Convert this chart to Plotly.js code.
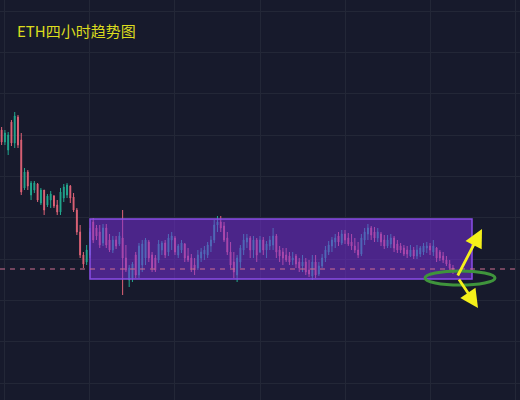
<!DOCTYPE html>
<html>
<head>
<meta charset="utf-8">
<script src="https://cdn.plot.ly/plotly-3.0.1.min.js"></script>
<style>html,body{margin:0;padding:0;background:#171a2c;}#chart{width:520px;height:400px;}</style>
</head>
<body>
<div id="chart"></div>
<script>
// ETH 4-hour candles
const openPrices = [2470,2458,2450,2478,2457,2483,2460,2412,2428,2405,
2410,2416,2397,2410,2395,2400,2404,2395,2388,2402,
2405,2414,2403,2390,2368,2345,2338,2345,2378,2372,
2368,2357,2372,2360,2350,2360,2356,2362,2342,2320,
2322,2345,2325,2335,2342,2358,2345,2342,2340,2350,
2357,2348,2360,2362,2345,2350,2356,2344,2342,2335,
2332,2342,2346,2345,2354,2360,2375,2378,2374,2362,
2348,2338,2325,2338,2350,2358,2362,2350,2360,2348,
2360,2350,2354,2355,2364,2350,2348,2345,2344,2340,
2344,2338,2334,2338,2330,2324,2338,2326,2334,2342,
2348,2354,2358,2364,2357,2366,2362,2358,2354,2350,
2346,2360,2366,2372,2368,2362,2366,2360,2354,2356,
2362,2356,2354,2352,2350,2344,2350,2344,2346,2348,
2352,2354,2348,2352,2348,2344,2340,2336,2332];
const closePrices = [2458,2467,2465,2457,2484,2455,2408,2428,2414,2417,
2417,2400,2410,2390,2404,2406,2394,2388,2408,2413,
2415,2402,2390,2368,2345,2336,2350,2368,2360,2364,
2355,2372,2355,2350,2360,2354,2364,2342,2330,2332,
2336,2325,2354,2356,2360,2342,2332,2330,2356,2357,
2345,2362,2364,2348,2354,2357,2342,2340,2332,2330,
2345,2348,2350,2355,2360,2375,2378,2372,2360,2348,
2335,2328,2342,2352,2360,2362,2350,2360,2345,2360,
2350,2356,2360,2364,2348,2344,2342,2340,2338,2342,
2336,2332,2338,2328,2326,2338,2325,2334,2342,2350,
2355,2360,2362,2358,2366,2360,2356,2354,2350,2345,
2362,2368,2372,2365,2362,2368,2358,2354,2360,2362,
2352,2350,2350,2346,2346,2350,2344,2350,2352,2354,
2354,2350,2354,2342,2342,2340,2336,2332,2328];
const highPrices = [2473,2470,2468,2480,2488,2485,2467,2432,2430,2419,
2419,2417,2412,2410,2406,2409,2405,2400,2412,2416,
2417,2415,2407,2392,2375,2348,2355,2372,2382,2375,
2375,2376,2376,2366,2364,2364,2368,2390,2355,2335,
2338,2348,2357,2360,2362,2360,2348,2345,2360,2359,
2360,2366,2368,2364,2356,2360,2357,2352,2346,2342,
2350,2352,2354,2358,2364,2380,2384,2384,2378,2368,
2358,2348,2345,2355,2366,2366,2364,2364,2362,2364,
2363,2359,2364,2372,2366,2354,2352,2352,2348,2348,
2346,2342,2345,2342,2340,2345,2345,2338,2346,2354,
2359,2363,2366,2368,2370,2370,2367,2366,2362,2358,
2366,2372,2376,2374,2373,2372,2368,2365,2365,2366,
2364,2360,2357,2355,2354,2355,2353,2355,2354,2357,
2358,2357,2360,2353,2350,2348,2344,2340,2335];
const lowPrices = [2455,2455,2445,2454,2452,2452,2405,2410,2410,2400,
2407,2398,2395,2385,2393,2392,2392,2385,2385,2398,
2402,2397,2388,2365,2342,2332,2335,2342,2357,2360,
2352,2354,2352,2348,2347,2351,2354,2305,2328,2313,
2318,2322,2322,2328,2335,2338,2328,2328,2337,2345,
2342,2344,2350,2345,2342,2347,2338,2338,2328,2325,
2330,2338,2340,2342,2348,2357,2368,2368,2358,2345,
2332,2322,2318,2332,2345,2352,2342,2342,2338,2347,
2345,2342,2350,2350,2342,2338,2335,2338,2335,2335,
2332,2328,2328,2325,2323,2320,2322,2324,2332,2338,
2345,2348,2352,2354,2355,2356,2354,2350,2347,2342,
2344,2355,2360,2360,2358,2358,2354,2351,2352,2352,
2348,2347,2347,2344,2342,2343,2341,2341,2343,2345,
2347,2345,2344,2338,2339,2337,2334,2330,2326];
const candleIndex = openPrices.map((_, i) => i);

// Range box and support level
const supportLevel = 2331;
const rangeTop = 2381;
const rangeBottom = 2321;
const ellipseTop = 2329;
const ellipseBottom = 2315;
const titleText = 'ETH四小时趋势图';

const trace = {
  type: 'candlestick',
  x: candleIndex,
  open: openPrices, high: highPrices, low: lowPrices, close: closePrices,
  increasing: {line: {color: '#22a88f', width: 1}, fillcolor: '#22a88f'},
  decreasing: {line: {color: '#e06377', width: 1}, fillcolor: '#e06377'},
  whiskerwidth: 0,
  hoverinfo: 'skip'
};

const grid = '#232737';
const layout = {
  width: 520, height: 400,
  margin: {l: 0, r: 0, t: 0, b: 0},
  paper_bgcolor: '#171a2c',
  plot_bgcolor: '#171a2c',
  showlegend: false,
  hovermode: false,
  boxgap: 0.62,
  title: {
    text: titleText,
    font: {family: '"Noto Sans CJK SC", "Noto Sans", sans-serif', size: 15, color: '#dcdc1e'},
    xref: 'container', yref: 'container',
    x: 17/520, xanchor: 'left',
    y: 1 - 32/400, yanchor: 'middle'
  },
  xaxis: {
    range: [-0.5, 158.5],
    showgrid: true, gridcolor: grid, gridwidth: 1,
    tick0: 1, dtick: 26,
    zeroline: false, showticklabels: false, ticks: '', showline: false,
    rangeslider: {visible: false},
    fixedrange: true
  },
  yaxis: {
    range: [2200, 2600],
    showgrid: true, gridcolor: grid, gridwidth: 1,
    tick0: 2217, dtick: 41.3,
    zeroline: false, showticklabels: false, ticks: '', showline: false,
    fixedrange: true
  },
  shapes: [
    {type: 'rect', layer: 'above', xref: 'paper', yref: 'y',
     x0: 90/520, x1: 472/520, y0: rangeBottom, y1: rangeTop,
     fillcolor: 'rgba(122,48,222,0.52)', line: {color: '#8a4ee8', width: 1.5}},
    {type: 'line', layer: 'above', xref: 'paper', yref: 'y',
     x0: 0, x1: 1, y0: supportLevel, y1: supportLevel,
     line: {color: '#d07090', width: 1, dash: '5px,5px'}},
    {type: 'circle', layer: 'above', xref: 'paper', yref: 'y',
     x0: 425/520, x1: 495/520, y0: ellipseBottom, y1: ellipseTop,
     line: {color: '#3f943c', width: 3}}
  ],
  annotations: [
    {xref: 'paper', yref: 'paper', x: 482/520, y: 1 - 229/400, ax: -25, ay: 48,
     text: '', showarrow: true, arrowhead: 2, arrowsize: 1.3, arrowwidth: 2.8, arrowcolor: '#f5f01a'},
    {xref: 'paper', yref: 'paper', x: 478/520, y: 1 - 308/400, ax: -20, ay: -30,
     text: '', showarrow: true, arrowhead: 2, arrowsize: 1.3, arrowwidth: 2.8, arrowcolor: '#f5f01a'}
  ]
};

Plotly.newPlot('chart', [trace], layout, {staticPlot: true, displayModeBar: false});
</script>
</body>
</html>
